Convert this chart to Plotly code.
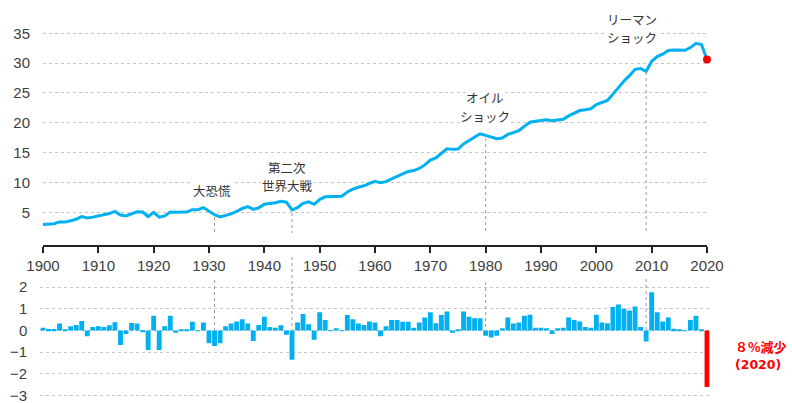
import plotly.graph_objects as go

years = list(range(1900, 2021))

# CO2 emissions level (Gt)
emissions = [
    2.95, 3.05, 3.10, 3.40, 3.40, 3.60, 3.85, 4.30, 4.05, 4.20,
    4.40, 4.55, 4.80, 5.15, 4.55, 4.40, 4.75, 5.10, 5.05, 4.30,
    5.00, 4.20, 4.40, 5.05, 5.00, 5.05, 5.05, 5.45, 5.45, 5.80,
    5.25, 4.60, 4.25, 4.45, 4.75, 5.15, 5.65, 5.95, 5.50, 5.75,
    6.35, 6.50, 6.60, 6.85, 6.70, 5.40, 5.80, 6.50, 6.75, 6.35,
    7.15, 7.60, 7.60, 7.70, 7.70, 8.40, 8.90, 9.20, 9.45, 9.85,
    10.20, 9.95, 10.15, 10.60, 11.05, 11.45, 11.85, 12.00, 12.35, 12.95,
    13.75, 14.10, 14.80, 15.65, 15.55, 15.60, 16.45, 17.05, 17.60, 18.15,
    17.90, 17.60, 17.35, 17.45, 18.05, 18.35, 18.70, 19.40, 20.10, 20.25,
    20.40, 20.50, 20.35, 20.45, 20.60, 21.15, 21.65, 22.05, 22.20, 22.35,
    23.05, 23.40, 23.75, 24.80, 26.00, 27.00, 27.90, 28.95, 29.10, 28.60,
    30.30, 31.10, 31.50, 32.10, 32.20, 32.20, 32.15, 32.60, 33.30, 33.10,
    30.60,
]

# Year-on-year change (Gt)
changes = [
    0.13, 0.07, 0.07, 0.32, 0.02, 0.20, 0.25, 0.44, -0.27, 0.16,
    0.20, 0.16, 0.24, 0.38, -0.67, -0.16, 0.35, 0.32, -0.06, -0.90,
    0.68, -0.90, 0.20, 0.68, -0.10, 0.05, 0.02, 0.40, -0.03, 0.37,
    -0.59, -0.71, -0.59, 0.20, 0.32, 0.41, 0.52, 0.32, -0.48, 0.25,
    0.63, 0.16, 0.13, 0.24, -0.19, -1.35, 0.37, 0.76, 0.29, -0.43,
    0.84, 0.48, -0.03, 0.10, -0.03, 0.71, 0.52, 0.32, 0.25, 0.41,
    0.37, -0.27, 0.20, 0.48, 0.48, 0.40, 0.40, 0.13, 0.37, 0.60,
    0.84, 0.33, 0.71, 0.87, -0.10, 0.05, 0.87, 0.63, 0.56, 0.56,
    -0.24, -0.32, -0.24, 0.10, 0.60, 0.32, 0.37, 0.68, 0.73, 0.13,
    0.13, 0.10, -0.16, 0.10, 0.13, 0.60, 0.48, 0.41, 0.16, 0.13,
    0.73, 0.37, 0.33, 1.08, 1.20, 1.00, 0.92, 1.10, 0.16, -0.51,
    1.76, 0.84, 0.41, 0.60, 0.08, 0.02, -0.03, 0.48, 0.68, 0.02,
    -2.60,
]

top_ticks = [5, 10, 15, 20, 25, 30, 35]
bottom_ticks = [-3, -2, -1, 0, 1, 2]
x_ticks = list(range(1900, 2021, 10))

event_years = [1931, 1945, 1980, 2009]
event_labels = [["大恐慌"], ["第二次", "世界大戦"], ["オイル", "ショック"], ["リーマン", "ショック"]]
drop_label = ["８%減少", "(2020)"]

BLUE = "#00B0F0"
RED = "#FF0000"
GRID = "#C4C4C4"
TXT = "#404040"
FONT = "Liberation Sans, Arial, Noto Sans CJK JP"
JFONT = "Noto Sans CJK JP"

W, H = 792, 403


def px_x(p):
    return p / W


def px_y(p):
    return (H - p) / H


fig = go.Figure()

fig.add_trace(go.Scatter(
    x=years, y=emissions, mode="lines",
    line=dict(color=BLUE, width=3), xaxis="x", yaxis="y",
    showlegend=False, hoverinfo="skip",
))
fig.add_trace(go.Scatter(
    x=[years[-1]], y=[emissions[-1]], mode="markers",
    marker=dict(color=RED, size=8), xaxis="x", yaxis="y",
    showlegend=False, cliponaxis=False,
))

bar_colors = [BLUE] * (len(years) - 1) + [RED]
fig.add_trace(go.Bar(
    x=years, y=changes, marker=dict(color=bar_colors, line=dict(width=0)),
    xaxis="x2", yaxis="y2", showlegend=False,
))

# vertical dotted event lines
shapes = []
top_end = {1931: 217, 1945: 213, 1980: 138, 2009: 72}
bot_start = {1931: 280, 1980: 282, 2009: 279}
DOT = dict(color="#9A9A9A", width=1, dash="dot")
for yr in event_years:
    shapes.append(dict(type="line", xref="x", yref="paper",
                       x0=yr, x1=yr, y0=px_y(top_end[yr]), y1=px_y(233), line=DOT))
    if yr == 1945:
        shapes.append(dict(type="line", xref="x2", yref="paper",
                           x0=yr, x1=yr, y0=px_y(257), y1=px_y(331), line=DOT))
    else:
        shapes.append(dict(type="line", xref="x2", yref="paper",
                           x0=yr, x1=yr, y0=px_y(bot_start[yr]), y1=px_y(330), line=DOT))

# label centre (px) for each event: x, y of first line
ann_pos = {1931: (212, 190), 1945: (287, 167), 1980: (485, 98), 2009: (632, 19)}
LINE_H = 18.5
annotations = []
for yr, lines in zip(event_years, event_labels):
    cx, cy = ann_pos[yr]
    for i, t in enumerate(lines):
        annotations.append(dict(
            x=px_x(cx), y=px_y(cy + i * LINE_H), xref="paper", yref="paper", text=t,
            showarrow=False, font=dict(family=JFONT, size=12.5, color="#333333"),
            bgcolor="white", borderpad=0, xanchor="center", yanchor="middle",
        ))
drop_fonts = [JFONT, "DejaVu Sans, Noto Sans CJK JP"]
drop_sizes = [13, 12.5]
for i, t in enumerate(drop_label):
    annotations.append(dict(
        x=px_x(733), y=px_y(346 + i * 18.5), xref="paper", yref="paper", text="<b>" + t + "</b>",
        showarrow=False, font=dict(family=drop_fonts[i], size=drop_sizes[i], color=RED),
        xanchor="left", yanchor="middle",
    ))

# top axis: value v -> px = 242.2 - 5.97 v
top_lo, top_hi = -0.5, 38.0
top_dom = [px_y(242.2 - 5.97 * top_lo), px_y(242.2 - 5.97 * top_hi)]
# bottom axis: value v -> px = 330.5 - 21.74 v
bot_lo, bot_hi = -3.2, 2.4
bot_dom = [px_y(330.5 - 21.74 * bot_lo), px_y(330.5 - 21.74 * bot_hi)]

ppy = (707 - 43) / 120.0

fig.update_layout(
    width=W, height=H,
    margin=dict(l=0, r=0, t=0, b=0, pad=0, autoexpand=False),
    paper_bgcolor="white", plot_bgcolor="white",
    bargap=0.12,
    font=dict(family=FONT, color=TXT, size=15),
    xaxis=dict(
        domain=[px_x(43), px_x(707)], range=[1900, 2020], anchor="y", automargin=False,
        tickvals=x_ticks, ticks="outside", ticklen=6, tickwidth=1.5, tickcolor="#222",
        showline=True, linecolor="#222", linewidth=1.5, showgrid=False, zeroline=False,
        tickfont=dict(size=15, color=TXT, family=FONT), ticklabeloverflow="allow",
    ),
    yaxis=dict(
        domain=top_dom, range=[top_lo, top_hi], anchor="x", automargin=False,
        tickvals=top_ticks, showgrid=True, gridcolor=GRID, griddash="dot", gridwidth=1,
        zeroline=False, showline=False, ticks="", ticklabelstandoff=12,
        tickfont=dict(size=15, color=TXT, family=FONT), ticklabeloverflow="allow",
    ),
    xaxis2=dict(
        domain=[px_x(43 - 0.5 * ppy), px_x(707 + 0.5 * ppy)], range=[1899.5, 2020.5],
        anchor="y2", showticklabels=False, showgrid=False, zeroline=False, showline=False,
        ticks="", automargin=False,
    ),
    yaxis2=dict(
        domain=bot_dom, range=[bot_lo, bot_hi], anchor="x2", automargin=False,
        tickvals=bottom_ticks, showgrid=True, gridcolor=GRID, griddash="dot", gridwidth=1,
        zeroline=False, showline=False, ticks="", ticklabelstandoff=12,
        tickfont=dict(size=15, color=TXT, family=FONT), ticklabeloverflow="allow",
    ),
    shapes=shapes,
    annotations=annotations,
)

fig.write_html(
    "out.html",
    config={"displayModeBar": False},
    post_script="document.body.style.margin='0px';document.body.style.overflow='hidden';",
)
